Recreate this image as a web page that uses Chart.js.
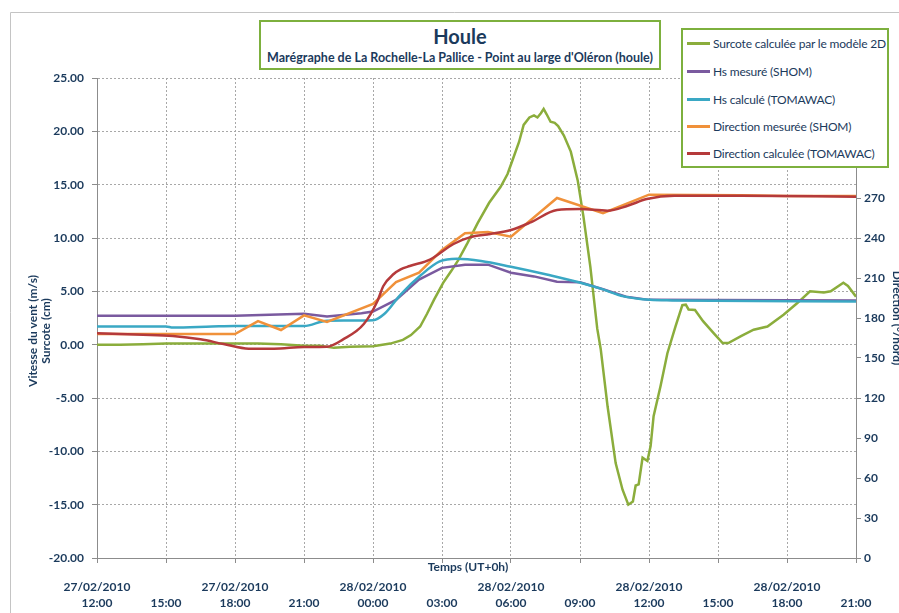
<!DOCTYPE html>
<html>
<head>
<meta charset="utf-8">
<script src="https://cdn.jsdelivr.net/npm/chart.js@4.4.1/dist/chart.umd.min.js"></script>
<style>
  html, body { margin: 0; padding: 0; background: #fff; overflow: hidden; }
  #wrap { position: relative; width: 899px; height: 613px; }
  #chart { position: absolute; left: 0; top: 0; }
  .box { position: absolute; background: #fff; border: 2px solid #7db03e; box-sizing: border-box;
         font-family: Lato, "Open Sans", sans-serif; color: #1b3a5c; }
  #title { left: 259px; top: 20px; width: 402px; height: 50px; }
  #title .t1 { position: absolute; left: 0; right: 0; top: 0; line-height: 28px; text-align: center;
               font-weight: 700; font-size: 20px; }
  #title .t2 { position: absolute; left: 0; right: 0; top: 28px; line-height: 16px; text-align: center;
               font-weight: 700; font-size: 12.5px; white-space: nowrap; }
  #legend { left: 681px; top: 28px; width: 208px; height: 140px; }
  .item { position: absolute; left: 4px; height: 16px; display: flex; align-items: center;
          font-size: 12px; letter-spacing: -0.18px; white-space: nowrap; }
  .item i { display: inline-block; width: 23px; height: 3px; margin-right: 3px; }
</style>
</head>
<body>
<div id="wrap">
  <canvas id="chart" width="899" height="613"></canvas>
  <div id="title" class="box">
    <div class="t1">Houle</div>
    <div class="t2">Marégraphe de La Rochelle-La Pallice - Point au large d'Oléron (houle)</div>
  </div>
  <div id="legend" class="box"></div>
</div>
<script>
// Time axis: hours elapsed since 27/02/2010 12:00 (UT)
const tickDates = ['27/02/2010', '', '27/02/2010', '', '28/02/2010', '', '28/02/2010', '', '28/02/2010', '', '28/02/2010', ''];
const tickTimes = ['12:00', '15:00', '18:00', '21:00', '00:00', '03:00', '06:00', '09:00', '12:00', '15:00', '18:00', '21:00'];

// Surcote calculée par le modèle 2D (cm, left axis)
const surcoteT = [0, 1, 2, 3, 4, 5, 6, 7, 8, 9, 9.7, 10.3, 11, 12, 12.75, 13.3, 13.65, 14.05, 14.35, 14.65,
  15.05, 15.4, 15.7, 16.1, 16.55, 17.05, 17.55, 17.85, 18.1, 18.35, 18.55, 18.8, 19.0, 19.15, 19.3, 19.42,
  19.55, 19.72, 19.9, 20.05, 20.3, 20.6, 20.9, 21.15, 21.45, 21.75, 21.9, 22.2, 22.55, 22.85, 23.1, 23.3,
  23.42, 23.55, 23.72, 23.93, 24.07, 24.2, 24.5, 24.8, 25.15, 25.45, 25.6, 25.72, 26.0, 26.35, 26.8, 27.2,
  27.45, 28.0, 28.55, 29.15, 29.85, 30.45, 31.0, 31.6, 31.9, 32.45, 32.65, 33.0];
const surcoteV = [0.0, 0.0, 0.05, 0.1, 0.1, 0.1, 0.1, 0.1, 0.05, -0.1, -0.1, -0.3, -0.2, -0.15, 0.1, 0.45, 0.9, 1.7, 2.9, 4.2,
  5.8, 6.9, 7.9, 9.5, 11.4, 13.3, 14.8, 16.0, 17.5, 19.0, 20.6, 21.3, 21.5, 21.3, 21.7, 22.1,
  21.6, 20.9, 20.8, 20.5, 19.6, 18.1, 15.4, 12.0, 7.3, 1.5, -0.4, -5.8, -11.1, -13.6, -15.0, -14.7,
  -13.2, -13.1, -10.6, -10.9, -9.5, -6.7, -3.9, -0.8, 1.7, 3.7, 3.75, 3.3, 3.25, 2.2, 1.1, 0.15,
  0.15, 0.8, 1.4, 1.7, 2.8, 3.9, 5.0, 4.9, 5.0, 5.8, 5.5, 4.5];

// Hs mesuré (SHOM), left axis
const hsMesT = [0, 6, 9, 10, 11.5, 12, 13, 14, 15, 16, 17, 18, 19, 20, 21, 22, 23, 24, 33];
const hsMesV = [2.7, 2.7, 2.9, 2.65, 2.95, 3.1, 4.2, 6.1, 7.2, 7.5, 7.5, 6.75, 6.4, 5.9, 5.85, 5.2, 4.5, 4.2, 4.15];

// Hs calculé (TOMAWAC), left axis
const hsCalT = [0, 3, 3.3, 5, 6, 9, 10, 12, 12.5, 13.2, 14.1, 14.9, 15.65, 16.7, 18, 19.6, 20.9, 21.9, 22.9, 24.05, 25, 33];
const hsCalV = [1.7, 1.7, 1.6, 1.7, 1.75, 1.75, 2.25, 2.3, 2.9, 4.7, 6.55, 7.8, 8.05, 7.85, 7.3, 6.55, 5.88, 5.25, 4.53, 4.2, 4.15, 4.05];

// Direction mesurée (SHOM), degrees, right axis
const dirMesT = [0, 6, 7, 8, 9, 10, 12, 13, 14, 15, 16, 17, 18, 20, 22, 24, 26, 28, 30, 33];
const dirMesV = [168, 168, 177.7, 171, 182, 177, 190.5, 207, 214, 231, 243.5, 244.5, 241, 270, 258.7, 272.5, 272.3, 272, 271.5, 271.5];

// Direction calculée (TOMAWAC), degrees, right axis
const dirCalT = [0, 2, 3.3, 4.5, 5.5, 6.6, 7.7, 9, 10, 10.7, 11.6, 12.2, 12.45, 12.9, 13.2, 13.6, 14.5, 15.5, 16.2, 17.1,
  18, 18.85, 20, 21, 22.2, 23.07, 23.9, 25.1, 28, 33];
const dirCalV = [168.5, 167.5, 166.5, 164, 160.5, 157, 157, 158.3, 158.5, 164, 175.5, 193, 204, 213, 216.5, 219, 224, 235.5, 240.5, 243,
  246, 251.7, 261, 261.7, 260.5, 264.2, 269.2, 271.7, 271.7, 271];

const seriesNames = [
  'Surcote calculée par le modèle 2D',
  'Hs mesuré (SHOM)',
  'Hs calculé (TOMAWAC)',
  'Direction mesurée (SHOM)',
  'Direction calculée (TOMAWAC)'
];
const seriesColors = ['#8bad3c', '#7a5a9f', '#3aa8c4', '#f0913a', '#b53a3b'];

const navy = '#1b3a5c';
const fontFam = 'Lato, "Open Sans", sans-serif';
const gridGray = '#a8a8a8';
const axisGray = '#8c8c8c';

function pts(ts, vs) { return ts.map((t, i) => ({ x: t, y: vs[i] })); }

function lineSet(idx, ts, vs, axis, order, smooth) {
  return {
    label: seriesNames[idx],
    data: pts(ts, vs),
    yAxisID: axis,
    borderColor: seriesColors[idx],
    backgroundColor: seriesColors[idx],
    borderWidth: 2.5,
    pointRadius: 0,
    fill: false,
    order: order,
    tension: 0,
    cubicInterpolationMode: smooth ? 'monotone' : 'default'
  };
}

// Legend box (HTML)
const legendEl = document.getElementById('legend');
const legendTops = [5, 33, 61, 88, 115];
seriesNames.forEach((name, i) => {
  const row = document.createElement('div');
  row.className = 'item';
  row.style.top = legendTops[i] + 'px';
  const sw = document.createElement('i');
  sw.style.background = seriesColors[i];
  row.appendChild(sw);
  row.appendChild(document.createTextNode(name));
  legendEl.appendChild(row);
});

// Frame and axis titles drawn on the canvas
const decorations = {
  id: 'decorations',
  beforeDraw(chart) {
    const ctx = chart.ctx;
    ctx.save();
    ctx.strokeStyle = '#c4c4c4';
    ctx.lineWidth = 1;
    ctx.beginPath();
    ctx.moveTo(10.5, 613);
    ctx.lineTo(10.5, 12.5);
    ctx.lineTo(899, 12.5);
    ctx.stroke();
    ctx.restore();
  },
  afterDraw(chart) {
    const ctx = chart.ctx;
    ctx.save();
    ctx.fillStyle = navy;
    ctx.font = '700 12px ' + fontFam;
    ctx.textAlign = 'center';
    ctx.textBaseline = 'middle';
    ctx.fillText('Temps (UT+0h)', 468, 567);

    ctx.save();
    ctx.translate(33, 331);
    ctx.rotate(-Math.PI / 2);
    ctx.fillText('Vitesse du vent (m/s)', 0, 0);
    ctx.fillText('Surcote (cm)', 0, 13);
    ctx.restore();

    ctx.save();
    ctx.translate(897, 318);
    ctx.rotate(Math.PI / 2);
    ctx.fillText('Direction (°/nord)', 0, 0);
    ctx.restore();
    ctx.restore();
  }
};

const tickFont = { family: fontFam, size: 12, weight: '700' };

new Chart(document.getElementById('chart'), {
  type: 'line',
  data: {
    datasets: [
      lineSet(0, surcoteT, surcoteV, 'y', 5, false),
      lineSet(1, hsMesT, hsMesV, 'y', 4, false),
      lineSet(2, hsCalT, hsCalV, 'y', 3, true),
      lineSet(3, dirMesT, dirMesV, 'y2', 2, false),
      lineSet(4, dirCalT, dirCalV, 'y2', 1, true)
    ]
  },
  options: {
    responsive: false,
    animation: false,
    devicePixelRatio: 1,
    layout: { padding: { top: 78, left: 0, right: 0, bottom: 0 } },
    plugins: { legend: { display: false }, tooltip: { enabled: false } },
    scales: {
      x: {
        type: 'linear',
        min: 0,
        max: 33,
        afterFit(scale) { scale.height = 55; },
        afterBuildTicks(scale) { scale.ticks = tickTimes.map((_, i) => ({ value: i * 3 })); },
        ticks: {
          autoSkip: false,
          maxRotation: 0,
          padding: 16,
          color: navy,
          font: { family: fontFam, size: 12, weight: '700', lineHeight: 1.35 },
          callback: (v, i) => [tickDates[i], tickTimes[i]]
        },
        grid: { color: gridGray, lineWidth: 1, tickLength: 5, tickColor: axisGray, tickBorderDash: [] },
        border: { display: true, color: axisGray, width: 1, dash: [2, 2] }
      },
      y: {
        position: 'left',
        min: -20,
        max: 25,
        afterFit(scale) { scale.width = 97; },
        ticks: { stepSize: 5, padding: 8, color: navy, font: tickFont, callback: v => v.toFixed(2) },
        grid: { color: gridGray, lineWidth: 1, tickLength: 5, tickColor: axisGray, tickBorderDash: [] },
        border: { display: true, color: axisGray, width: 1, dash: [2, 2] }
      },
      y2: {
        position: 'right',
        min: 0,
        max: 360,
        afterFit(scale) { scale.width = 43; },
        ticks: { stepSize: 30, padding: 3, color: navy, font: tickFont, callback: v => String(v) },
        grid: { drawOnChartArea: false, tickLength: 5, tickColor: axisGray, color: axisGray },
        border: { display: true, color: axisGray, width: 1 }
      }
    }
  },
  plugins: [decorations]
});
</script>
</body>
</html>
